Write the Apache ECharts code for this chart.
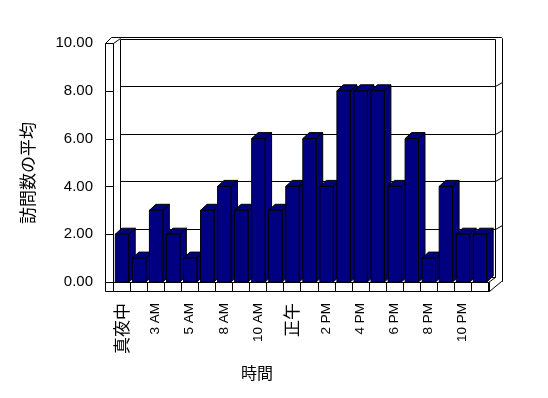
<!DOCTYPE html>
<html>
<head>
<meta charset="utf-8">
<script src="https://cdn.jsdelivr.net/npm/echarts@6/dist/echarts.min.js"></script>
<style>html,body{margin:0;padding:0;background:#fff;}#c{width:548px;height:398px;}</style>
</head>
<body>
<div id="c"></div>
<script>
const categories = ['真夜中','1 AM','3 AM','4 AM','5 AM','7 AM','8 AM','9 AM','10 AM','11 AM','正午','1 PM','2 PM','3 PM','4 PM','5 PM','6 PM','7 PM','8 PM','9 PM','10 PM','11 PM'];
const values = [2,1,3,2,1,3,4,3,6,3,4,6,4,8,8,8,4,6,1,4,2,2];
const yTicks = [0,2,4,6,8,10];
const xTitle = '時間';
const yTitle = '訪問数の平均';

const chart = echarts.init(document.getElementById('c'), null, {renderer:'canvas'});
const LAT = 'Liberation Sans, Arial, Noto Sans CJK JP, sans-serif';
const CJK = 'Noto Sans CJK JP, sans-serif';
const NAVY = '#000080';

chart.setOption({
  animation:false,
  backgroundColor:'#fff',
  grid:{left:113, right:60, top:43, bottom:116, containLabel:false},
  xAxis:{type:'category', data:categories, boundaryGap:true,
    axisLine:{show:false}, axisTick:{show:false}, splitLine:{show:false},
    axisLabel:{interval:1, rotate:90, margin:21, fontSize:13.5, color:'#000', fontFamily:LAT,
      formatter: v => /[^\x00-\x7F]/.test(v) ? '{j|' + v + '}' : v,
      rich:{j:{fontSize:17, fontFamily:CJK, color:'#000'}}}},
  yAxis:{type:'value', min:0, max:10, interval:2,
    axisLine:{show:false}, axisTick:{show:false}, splitLine:{show:false},
    axisLabel:{formatter:v=>v.toFixed(2), margin:20, fontSize:15, color:'#000', fontFamily:LAT}},
  series:[{
    type:'custom', z:5,
    data: values.map((v,i)=>[i,v]),
    renderItem:function(params, api){
      const i = api.value(0), v = api.value(1);
      const top = api.coord([i, v]);
      const bot = api.coord([i, 0]);
      const w = 13.4, dx = 6.5, dy = -6;
      const cx = top[0] + 0.5;
      const x0 = cx - w/2, x1 = cx + w/2;
      const st = {fill:NAVY, stroke:'#000', lineWidth:1};
      return {type:'group', children:[
        {type:'polygon', shape:{points:[[x1,top[1]],[x1+dx,top[1]+dy],[x1+dx,bot[1]+dy],[x1,bot[1]]]}, style:st},
        {type:'polygon', shape:{points:[[x0,top[1]],[x0+dx,top[1]+dy],[x1+dx,top[1]+dy],[x1,top[1]]]}, style:st},
        {type:'rect', shape:{x:x0, y:top[1], width:w, height:bot[1]-top[1]}, style:st}
      ]};
    }
  }]
});

// frame (walls, floor, gridlines) positioned from the axes
const yF = v => chart.convertToPixel({yAxisIndex:0}, v);
const xC = i => chart.convertToPixel({xAxisIndex:0}, i);
const band = xC(1) - xC(0);
const L = xC(0) - band/2, R = xC(categories.length-1) + band/2;
const T = yF(10), B = yF(0);
const c = v => Math.round(v) + 0.5;
const els = [];
const line = (pts, z) => els.push({type:'polyline', silent:true, z:z||0,
  shape:{points:pts}, style:{stroke:'#000', fill:null, lineWidth:1}});
const BX = 7, BY = -5;           // back-wall offset
const WL = c(L-8);               // left wall outer x
const FB = c(B+9);               // floor bottom
// back wall
line([[c(L-2), c(T-6)], [c(R+13), c(T-6)]]);
line([[c(L+BX), c(T-4)], [c(R+BX), c(T-4)]]);
line([[c(L+BX), c(T-4)], [c(L+BX), c(B+BY)]]);
line([[c(R+BX), c(T-4)], [c(R+BX), c(B+BY)]]);
line([[c(R+14), c(T-5)], [c(R+14), c(B-1)]]);
line([[c(R+13), c(T-6)], [c(R+14), c(T-5)]]);
line([[c(L+BX), c(B+BY)], [c(R+BX), c(B+BY)]]);
yTicks.forEach(v => {
  if (v > 0 && v < 10) {
    line([[c(L+BX), c(yF(v)+BY)], [c(R+BX), c(yF(v)+BY)], [c(R+14), c(yF(v)+BY-4)]]);
  }
});
// left wall
els.push({type:'rect', silent:true, z:1, shape:{x:WL, y:c(T), width:c(L)-WL, height:FB-c(T)},
  style:{fill:'#fff', stroke:'#000', lineWidth:1}});
line([[WL, c(T)], [c(L-2), c(T-6)]], 1);
line([[c(L), c(T)], [c(L+BX), c(T-5)]], 1);
yTicks.forEach(v => line([[WL, c(yF(v))], [c(L), c(yF(v))]], 1));
// floor front strip
els.push({type:'rect', silent:true, z:1, shape:{x:c(L), y:c(B), width:c(R+1)-c(L), height:FB-c(B)},
  style:{fill:'#fff', stroke:'#000', lineWidth:1}});
for (let k = 0; k <= categories.length; k++) {
  line([[c(L + k*band), c(B)], [c(L + k*band), FB]], 1);
}
line([[c(R+1), FB], [c(R+13), c(B-1)], [c(R+14), c(B-1)]], 1);
line([[c(R), c(B)], [c(R+BX), c(B+BY)]], 1);
// axis titles
els.push({type:'text', silent:true, z:1, x:257, y:373,
  style:{text:xTitle, font:'16px '+CJK, fill:'#000', align:'center', verticalAlign:'middle'}});
els.push({type:'text', silent:true, z:1, x:28, y:173, rotation:Math.PI/2,
  style:{text:yTitle, font:'17px '+CJK, fill:'#000', align:'center', verticalAlign:'middle'}});
chart.setOption({graphic:els});
</script>
</body>
</html>
